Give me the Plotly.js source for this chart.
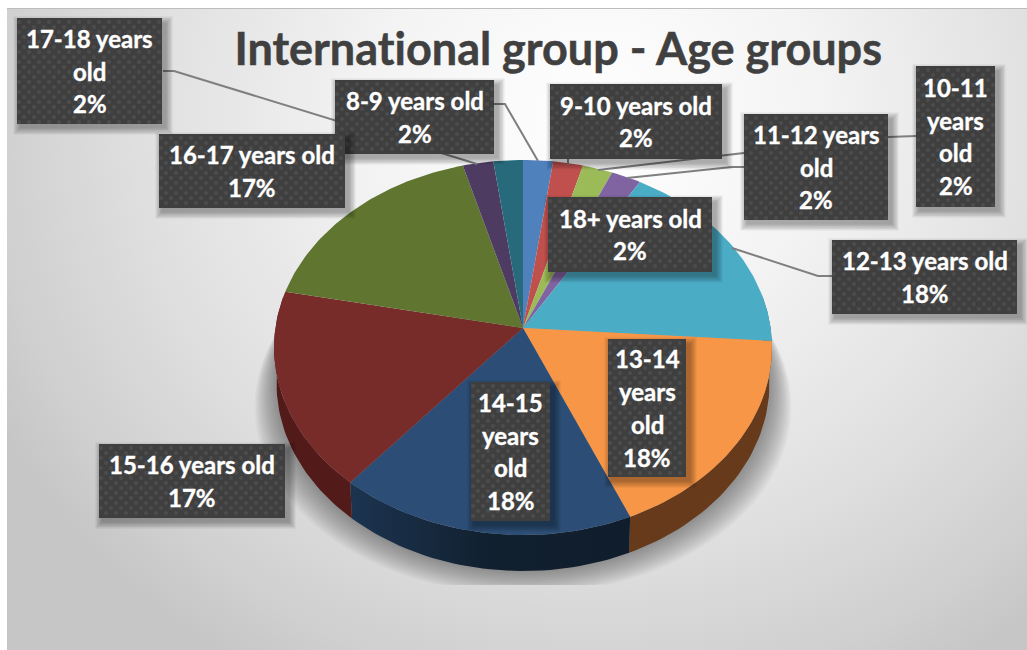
<!DOCTYPE html>
<html><head><meta charset="utf-8">
<script src="https://cdn.plot.ly/plotly-3.0.1.min.js"></script>
<style>
html,body{margin:0;padding:0;background:#fff;overflow:hidden}
#bg{position:absolute;left:7px;top:8px;width:1020px;height:642px;border-top:1px solid #bdbdbd;box-sizing:border-box;
background:radial-gradient(ellipse 680px 640px at 590px 110px,#ffffff 0%,#f4f4f4 32%,#e0e0e0 66%,#cfcfcf 90%,#c6c6c6 100%)}
#chart{position:absolute;left:0;top:0;width:1027px;height:650px}
#chart text{font-variant-ligatures:none;font-feature-settings:"liga" 0}
#chart .annotation-text{stroke:#ffffff;stroke-width:0.35px}
#chart .gtitle{stroke:#404040;stroke-width:0.5px}
</style></head><body>
<div id="bg"></div><div id="chart"></div>
<script>
// ---- data ----
const categories=["8-9 years old","9-10 years old","10-11 years old","11-12 years old","12-13 years old","13-14 years old","14-15 years old","15-16 years old","16-17 years old","17-18 years old","18+ years old"];
const values=[2.15,2.15,2.15,2.15,17.5,17.5,17.5,17.1,17.49,2.2,2.11];
const percents=["2%","2%","2%","2%","18%","18%","18%","17%","17%","2%","2%"];
const colors=["#4f81bd","#c0504d","#9bbb59","#8064a2","#4bacc6","#f79646","#2c4d75","#772c2a","#5f7530","#4d3b62","#276a7c"];
const wallColors=["#2f4d71","#73302e","#5d7035","#4d3c61","#2d6777","#663a1b","#122033","#521a19","#394620","#2e233b","#17404a"];
// label wrapped lines, boxes [x0,y0,x1,y1] — draw order matters
const wrap={"17-18 years old":["17-18 years","old"],"10-11 years old":["10-11","years","old"],"11-12 years old":["11-12 years","old"],"13-14 years old":["13-14","years","old"],"14-15 years old":["14-15","years","old"]};
const boxes={"17-18 years old":[17,18,162,124],"8-9 years old":[335,80,494,154],"16-17 years old":[159,134,345,208],"9-10 years old":[550,84,722,159],"18+ years old":[548,197,712,272],"11-12 years old":[744,114,888,220],"10-11 years old":[916,66,995,207],"12-13 years old":[832,240,1017,314],"13-14 years old":[608,339,686,477],"14-15 years old":[471,382,550,521],"15-16 years old":[99,444,285,518]};
const leaders=[[[163,71],[174,71],[477,164]],[[493,104],[505,104],[538,161]],[[568,157],[568,165]],[[916,136],[888,137],[744,153],[598,170]],[[744,167],[732,167],[627,178]],[[833,276],[818,276],[732,248]]];
const titleText="International group - Age groups";

// ---- perspective disc projection ----
const cx=523,cy=328,k=0.104,RX=247.6,RY=185.5,depth=36;
function rim(t){ // t in degrees clockwise from top
  const a=t*Math.PI/180,u=Math.sin(a),v=Math.cos(a),d=1+k*v;
  return [cx+RX*u/d,cy-RY*v/d];
}
const total=values.reduce((a,b)=>a+b,0);
const traces=[];
const skip={hoverinfo:"skip",showlegend:false,mode:"lines",type:"scatter"};
function poly(pts,fill,extra){
  traces.push(Object.assign({},skip,{x:pts.map(p=>p[0]),y:pts.map(p=>p[1]),fill:"toself",fillcolor:fill,line:{width:0}},extra||{}));
}
// shadow under the pie
for(let i=0;i<16;i++){
  const pts=[];
  const sx=1+i*0.0052;
  for(let t=72;t<=288;t+=2){const p=rim(t);
    pts.push([cx+(p[0]-cx)*sx,Math.min(585,p[1]+depth+1+i*1.5)]);}
  poly(pts,"rgba(70,70,70,0.036)");
}
// side walls
let acc=0;const ranges=values.map(v=>{const a=acc;acc+=v;return [a/total*360,acc/total*360];});
values.forEach((v,i)=>{
  const lo=Math.max(ranges[i][0],80),hi=Math.min(ranges[i][1],280);
  if(hi<=lo)return;
  const top=[],bot=[];
  for(let j=0;j<=40;j++){const t=lo+(hi-lo)*j/40,p=rim(t);top.push(p);bot.push([cx+(p[0]-cx)*0.99,p[1]+depth]);}
  const extra=categories[i]==="14-15 years old"?{fillgradient:{type:"horizontal",colorscale:[[0,"#1c3450"],[0.5,"#11202f"],[1,"#101d2c"]]}}:{};
  poly(top.concat(bot.reverse()),wallColors[i],extra);
});
// top face slices
values.forEach((v,i)=>{
  const pts=[[cx,cy]],[a,b]=ranges[i];
  const n=Math.max(8,Math.round(b-a));
  for(let j=0;j<=n;j++)pts.push(rim(a+(b-a)*j/n));
  pts.push([cx,cy]);
  poly(pts,colors[i]);
});
// leader lines
leaders.forEach(l=>traces.push(Object.assign({},skip,{x:l.map(p=>p[0]),y:l.map(p=>p[1]),line:{color:"#7f7f7f",width:2}})));
// label boxes
const annotations=[];
Object.keys(boxes).forEach(name=>{
  const [x0,y0,x1,y1]=boxes[name];
  for(let s=5;s>=1;s--){
    const o=s*1.5;
    poly([[x0+4-o,y0+6-o],[x1+3+o,y0+6-o],[x1+3+o,y1+3+o],[x0+4-o,y1+3+o],[x0+4-o,y0+6-o]],"rgba(0,0,0,0.07)");
  }
  poly([[x0,y0],[x1,y0],[x1,y1],[x0,y1],[x0,y0]],"#3f3f3f");
  const dx=[],dy=[];
  for(let r=0,y=y0+4;y<y1-1;y+=5,r++)for(let x=x0+(r%2?7:2);x<x1-1;x+=10){dx.push(x);dy.push(y);}
  traces.push({type:"scatter",mode:"markers",hoverinfo:"skip",showlegend:false,x:dx,y:dy,marker:{size:4,color:"rgba(255,255,255,0.07)",line:{width:0}}});
  const lines=(wrap[name]||[name]).concat(percents[categories.indexOf(name)]);
  lines.forEach((ln,i)=>annotations.push({x:(x0+x1)/2,y:(y0+y1)/2+(i-(lines.length-1)/2)*32.8,xref:"x",yref:"y",showarrow:false,xanchor:"center",yanchor:"middle",
    text:ln,font:{family:"Lato, sans-serif",size:24,color:"#ffffff",weight:700}}));
});
const layout={width:1027,height:650,margin:{l:0,r:0,t:0,b:0},paper_bgcolor:"rgba(0,0,0,0)",plot_bgcolor:"rgba(0,0,0,0)",
  showlegend:false,hovermode:false,
  title:{text:"<b>"+titleText+"</b>",x:0.5435,xanchor:"center",y:0.925,yanchor:"middle",font:{family:"Lato, sans-serif",size:45,color:"#404040"}},
  xaxis:{range:[0,1027],visible:false,fixedrange:true},
  yaxis:{range:[650,0],visible:false,fixedrange:true},
  annotations};
Plotly.newPlot("chart",traces,layout,{displayModeBar:false,staticPlot:true});
</script></body></html>
